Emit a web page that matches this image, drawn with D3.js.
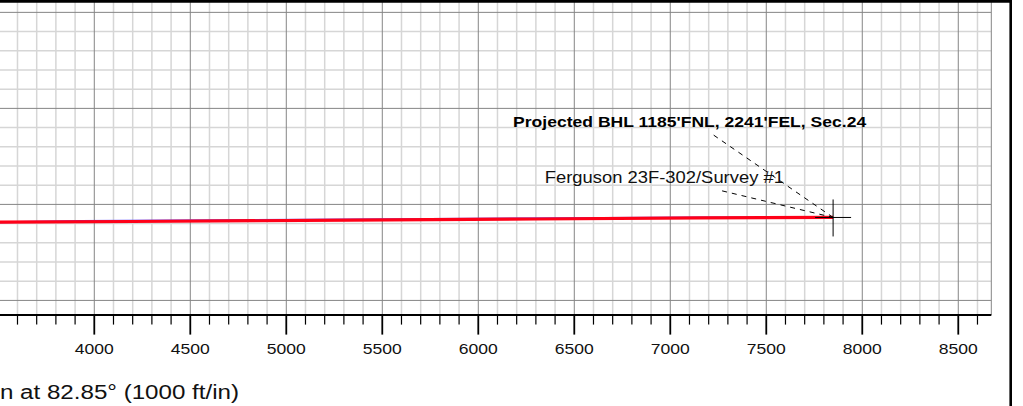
<!DOCTYPE html>
<html>
<head>
<meta charset="utf-8">
<script src="https://cdn.jsdelivr.net/npm/d3@7"></script>
<style>
  html, body { margin: 0; padding: 0; background: #fff; }
  svg { display: block; font-family: Arial, "Liberation Sans", sans-serif; }
</style>
</head>
<body>
<div id="chart"></div>
<script>
// vertical section (ft) and TVD (ft)
const vsTicks = [4000, 4500, 5000, 5500, 6000, 6500, 7000, 7500, 8000, 8500];
const actualVS  = [3300, 3509, 4200, 5332, 6300, 7155, 7848];
const actualTVD = [10593, 10592, 10589, 10582, 10576, 10570, 10568];
const planVS  = [3300, 3509, 3926, 5332, 7155, 7848];
const planTVD = [10594, 10593, 10586, 10578, 10568, 10568];
const bhl = { vs: 7848, tvd: 10568 };
const bhlLabel = "Projected BHL 1185'FNL, 2241'FEL, Sec.24";
const wellLabel = "Ferguson 23F-302/Survey #1";
const axisTitle = "Vertical Section at 82.85° (1000 ft/in)";

const width = 1023, height = 406;
const svg = d3.select("#chart").append("svg").attr("width", width).attr("height", height);

const x = d3.scaleLinear().domain([3508.9, 8672]).range([0, 991.3]);
const y = d3.scaleLinear().domain([9446, 11076.5]).range([2, 315.1]);

const plot = svg.append("g");
plot.append("clipPath").attr("id", "clip").append("rect")
  .attr("x", 0).attr("y", 0).attr("width", x.range()[1]).attr("height", y.range()[1]);

// grid
const minorX = d3.range(3600, 8700, 100).filter(d => d % 500 !== 0);
const minorY = d3.range(9500, 11076, 100).filter(d => d % 500 !== 0);
const majorX = d3.range(4000, 8600, 500);
const majorY = d3.range(9500, 11076, 500);
const grid = plot.append("g").attr("clip-path", "url(#clip)");
grid.selectAll(".mx").data(minorX).join("line")
  .attr("x1", d => x(d)).attr("x2", d => x(d)).attr("y1", 0).attr("y2", y.range()[1])
  .attr("stroke", "#d6d6d6").attr("stroke-width", 1.5);
grid.selectAll(".my").data(minorY).join("line")
  .attr("x1", 0).attr("x2", x.range()[1]).attr("y1", d => y(d)).attr("y2", d => y(d))
  .attr("stroke", "#d6d6d6").attr("stroke-width", 1.5);
grid.selectAll(".Mx").data(majorX).join("line")
  .attr("x1", d => x(d)).attr("x2", d => x(d)).attr("y1", 0).attr("y2", y.range()[1])
  .attr("stroke", "#858585").attr("stroke-width", 1);
grid.selectAll(".My").data(majorY).join("line")
  .attr("x1", 0).attr("x2", x.range()[1]).attr("y1", d => y(d)).attr("y2", d => y(d))
  .attr("stroke", "#858585").attr("stroke-width", 1);
plot.append("line").attr("x1", x.range()[1]).attr("x2", x.range()[1])
  .attr("y1", 0).attr("y2", y.range()[1]).attr("stroke", "#858585").attr("stroke-width", 1);

// x axis
const axisY = y.range()[1];
const ax = svg.append("g").attr("transform", `translate(0,${axisY})`);
ax.append("line").attr("x1", 0).attr("x2", x.range()[1]).attr("stroke", "#000").attr("stroke-width", 2);
ax.selectAll(".tm").data(minorX).join("line")
  .attr("x1", d => x(d)).attr("x2", d => x(d)).attr("y1", 0).attr("y2", 9.5)
  .attr("stroke", "#000").attr("stroke-width", 1.2);
ax.selectAll(".tM").data(vsTicks).join("line")
  .attr("x1", d => x(d)).attr("x2", d => x(d)).attr("y1", 0).attr("y2", 19.5)
  .attr("stroke", "#000").attr("stroke-width", 1.8);
ax.selectAll("text").data(vsTicks).join("text")
  .attr("transform", d => `translate(${x(d)},39.3) scale(1.17,1)`)
  .attr("text-anchor", "middle").attr("font-size", 15).attr("fill", "#111")
  .text(d => d);

svg.append("text").attr("transform", "translate(239,399.3) scale(1.15,1)")
  .attr("text-anchor", "end").attr("font-size", 21).attr("fill", "#111")
  .text(axisTitle);

// wellpaths
const line = d3.line().x(d => x(d[0])).y(d => y(d[1]));
const paths = plot.append("g").attr("clip-path", "url(#clip)");
paths.append("path").datum(d3.zip(planVS, planTVD))
  .attr("fill", "none").attr("stroke", "#5a4cff").attr("stroke-width", 2).attr("d", line);
paths.append("path").datum(d3.zip(actualVS, actualTVD))
  .attr("fill", "none").attr("stroke", "#ff0018").attr("stroke-width", 3.2).attr("d", line);

// BHL crosshair and labels
const bx = x(bhl.vs), by = y(bhl.tvd);
svg.append("line").attr("x1", bx - 18).attr("x2", bx + 18).attr("y1", by).attr("y2", by)
  .attr("stroke", "#000").attr("stroke-width", 1);
svg.append("line").attr("x1", bx).attr("x2", bx).attr("y1", by - 18).attr("y2", by + 19)
  .attr("stroke", "#000").attr("stroke-width", 1);

svg.append("line").attr("x1", bx - 119.4).attr("y1", by - 82.3).attr("x2", bx).attr("y2", by)
  .attr("stroke", "#000").attr("stroke-dasharray", "5,5");
svg.append("line").attr("x1", bx - 111).attr("y1", by - 26.6).attr("x2", bx).attr("y2", by)
  .attr("stroke", "#000").attr("stroke-dasharray", "5,5");

svg.append("text").attr("transform", `translate(${bx - 320},${by - 90.6}) scale(1.17,1)`)
  .attr("font-size", 15).attr("font-weight", "bold").attr("fill", "#000")
  .text(bhlLabel);
svg.append("text").attr("transform", `translate(${bx - 288.4},${by - 34.6}) scale(1.15,1)`)
  .attr("font-size", 16).attr("fill", "#111")
  .text(wellLabel);

// frame
svg.append("line").attr("x1", 0).attr("x2", 1012).attr("y1", 1.3).attr("y2", 1.3)
  .attr("stroke", "#000").attr("stroke-width", 2.7);
svg.append("line").attr("x1", 1010.7).attr("x2", 1010.7).attr("y1", 0).attr("y2", height)
  .attr("stroke", "#000").attr("stroke-width", 2.6);
</script>
</body>
</html>
